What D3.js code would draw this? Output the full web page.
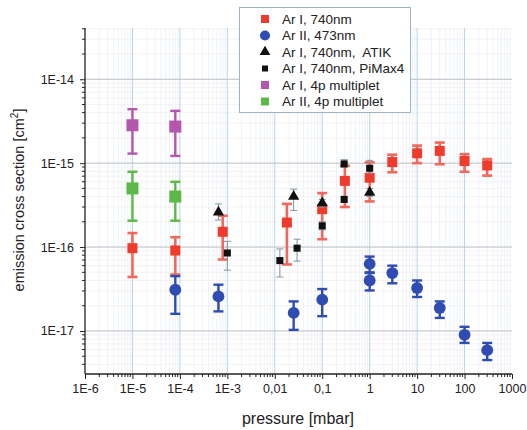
<!DOCTYPE html>
<html>
<head>
<meta charset="utf-8">
<script src="https://cdn.jsdelivr.net/npm/d3@7"></script>
<style>
  html, body { margin: 0; padding: 0; background: #fff; }
  svg { display: block; font-family: "Liberation Sans", Arial, sans-serif; }
</style>
</head>
<body>
<svg id="chart" width="527" height="430"></svg>
<script>
// Emission cross sections vs. pressure: [pressure mbar, value cm², lower, upper]
const arI740 = [
  [1e-5, 9.7e-17, 4.4e-17, 1.47e-16],
  [8e-5, 9.1e-17, 4.7e-17, 1.31e-16],
  [8e-4, 1.52e-16, 7.1e-17, 2.36e-16],
  [0.018, 1.96e-16, 6.2e-17, 3.27e-16],
  [0.1, 2.83e-16, 1.24e-16, 4.4e-16],
  [0.3, 6.15e-16, 3.0e-16, 9.3e-16],
  [1, 6.7e-16, 3.5e-16, 1.02e-15],
  [3, 1.03e-15, 7.8e-16, 1.26e-15],
  [10, 1.31e-15, 1.0e-15, 1.62e-15],
  [30, 1.4e-15, 9.7e-16, 1.76e-15],
  [100, 1.06e-15, 7.9e-16, 1.28e-15],
  [300, 9.4e-16, 7.1e-16, 1.12e-15]
];
const arII473 = [
  [8e-5, 3.1e-17, 1.6e-17, 4.5e-17],
  [6.5e-4, 2.58e-17, 1.71e-17, 3.56e-17],
  [0.025, 1.64e-17, 1.03e-17, 2.25e-17],
  [0.1, 2.36e-17, 1.5e-17, 3.16e-17],
  [1, 6.3e-17, 4.9e-17, 7.7e-17],
  [1, 4.0e-17, 3.04e-17, 5.0e-17],
  [3, 4.9e-17, 3.7e-17, 6.0e-17],
  [10, 3.25e-17, 2.54e-17, 4.0e-17],
  [30, 1.88e-17, 1.43e-17, 2.25e-17],
  [100, 9.0e-18, 7.2e-18, 1.12e-17],
  [300, 5.9e-18, 4.5e-18, 7.2e-18]
];
const arI740Atik = [
  [6.5e-4, 2.6e-16, 2.1e-16, 3.27e-16],
  [0.025, 4.0e-16, 2.73e-16, 4.9e-16],
  [0.1, 3.34e-16, 3.0e-16, 3.7e-16],
  [1, 4.47e-16, 4.0e-16, 5.0e-16]
];
const arI740PiMax = [
  [1e-3, 8.5e-17, 5.3e-17, 1.17e-16],
  [0.0128, 6.9e-17, 4.4e-17, 9.5e-17],
  [0.0295, 9.7e-17, 6.8e-17, 1.24e-16],
  [0.1, 1.79e-16, 1.6e-16, 2.0e-16],
  [0.29, 9.8e-16, 9.0e-16, 1.1e-15],
  [0.29, 3.7e-16, 3.4e-16, 4.0e-16],
  [1, 8.7e-16, 7.6e-16, 1.08e-15]
];
const arI4p = [
  [1e-5, 2.83e-15, 1.3e-15, 4.4e-15],
  [8e-5, 2.73e-15, 1.22e-15, 4.2e-15]
];
const arII4p = [
  [1e-5, 5.0e-16, 2.06e-16, 7.9e-16],
  [8e-5, 4.0e-16, 2.06e-16, 6.0e-16]
];

const xTickValues = [1e-6, 1e-5, 1e-4, 1e-3, 0.01, 0.1, 1, 10, 100, 1000];
const xTickLabels = ["1E-6", "1E-5", "1E-4", "1E-3", "0,01", "0,1", "1", "10", "100", "1000"];
const yTickValues = [1e-17, 1e-16, 1e-15, 1e-14];
const yTickLabels = ["1E-17", "1E-16", "1E-15", "1E-14"];
const legendLabels = ["Ar I, 740nm", "Ar II, 473nm", "Ar I, 740nm,  ATIK",
  "Ar I, 740nm, PiMax4", "Ar I, 4p multiplet", "Ar II, 4p multiplet"];

const svg = d3.select("#chart");
const x = d3.scaleLog().domain([1e-6, 1000]).range([85, 512]);
const y = d3.scaleLog().domain([Math.pow(10, -17.513), Math.pow(10, -13.389)]).range([374, 28]);
const [x0, x1] = x.range();
const [y0, y1] = y.range();

// minor and major grid
const minorX = [], minorY = [];
for (let e = -6; e < 3; e++) for (let m = 2; m <= 9; m++) minorX.push(m * Math.pow(10, e));
for (let e = -18; e < -13; e++) for (let m = 1; m <= 9; m++) {
  const v = m * Math.pow(10, e);
  if (v >= y.domain()[0] && v <= y.domain()[1]) minorY.push(v);
}
const grid = svg.append("g");
grid.selectAll(".gmx").data(minorX).join("line")
  .attr("x1", d => x(d)).attr("x2", d => x(d)).attr("y1", y0).attr("y2", y1)
  .attr("stroke", "#eaf0f6").attr("stroke-width", 0.8);
grid.selectAll(".gmy").data(minorY.filter(v => !yTickValues.includes(v))).join("line")
  .attr("x1", x0).attr("x2", x1).attr("y1", d => y(d)).attr("y2", d => y(d))
  .attr("stroke", "#f2eef0").attr("stroke-width", 0.8);
grid.selectAll(".gx").data(xTickValues.slice(1, -1)).join("line")
  .attr("x1", d => x(d)).attr("x2", d => x(d)).attr("y1", y0).attr("y2", y1)
  .attr("stroke", "#bcd3e4").attr("stroke-width", 1);
grid.selectAll(".gy").data(yTickValues).join("line")
  .attr("x1", x0).attr("x2", x1).attr("y1", d => y(d)).attr("y2", d => y(d))
  .attr("stroke", "#b9bec4").attr("stroke-width", 1);

// axes
const xAxis = d3.axisBottom(x).tickValues(xTickValues)
  .tickFormat((d, i) => xTickLabels[i]).tickSize(5).tickPadding(5);
const gx = svg.append("g").attr("transform", `translate(0,${y0})`).call(xAxis);
gx.append("g").selectAll("line").data(minorX).join("line")
  .attr("x1", d => x(d)).attr("x2", d => x(d)).attr("y1", 0).attr("y2", 3)
  .attr("stroke", "#222");
const yAxis = d3.axisLeft(y).tickValues(yTickValues)
  .tickFormat((d, i) => yTickLabels[i]).tickSize(5).tickPadding(6);
const gy = svg.append("g").attr("transform", `translate(${x0},0)`).call(yAxis);
gy.append("g").selectAll("line").data(minorY.filter(v => !yTickValues.includes(v))).join("line")
  .attr("x1", 0).attr("x2", -3).attr("y1", d => y(d)).attr("y2", d => y(d))
  .attr("stroke", "#222");
[gx, gy].forEach(g => {
  g.selectAll(".domain").attr("stroke", "#222").attr("stroke-width", 1.3);
  g.selectAll(".tick line").attr("stroke", "#222");
  g.selectAll("text").attr("font-size", 12.5).attr("fill", "#222")
    .attr("font-family", "Liberation Sans, Arial, sans-serif");
});
gx.select(".domain").attr("d", `M${x0},0H${x1}`);
gy.select(".domain").attr("d", `M0,${y0}V${y1}`);

// axis titles
svg.append("text").attr("x", 298).attr("y", 424).attr("text-anchor", "middle")
  .attr("font-size", 16).attr("fill", "#222").text("pressure [mbar]");
const yt = svg.append("text").attr("transform", "translate(24,200) rotate(-90)")
  .attr("text-anchor", "middle").attr("font-size", 14.5).attr("fill", "#222");
yt.append("tspan").text("emission cross section [cm");
yt.append("tspan").attr("dy", -6).attr("font-size", 10).text("2");
yt.append("tspan").attr("dy", 6).text("]");

// series drawing
function errorBars(data, color, width, cap) {
  const g = svg.append("g").attr("stroke", color).attr("stroke-width", width).attr("fill", "none");
  data.forEach(d => {
    const cx = x(d[0]);
    g.append("line").attr("x1", cx).attr("x2", cx).attr("y1", y(d[2])).attr("y2", y(d[3]));
    g.append("line").attr("x1", cx - cap / 2).attr("x2", cx + cap / 2).attr("y1", y(d[2])).attr("y2", y(d[2]));
    g.append("line").attr("x1", cx - cap / 2).attr("x2", cx + cap / 2).attr("y1", y(d[3])).attr("y2", y(d[3]));
  });
}
function markers(data, shape, size, color) {
  svg.append("g").selectAll("path").data(data).join("path")
    .attr("transform", d => `translate(${x(d[0])},${y(d[1])})`)
    .attr("d", d3.symbol().type(shape).size(size))
    .attr("fill", color);
}

const cRed = "#ef3b2c", cRedBar = "#f2685c", cBlue = "#2f4cb3",
  cMag = "#b455ae", cGreen = "#5cb847", cBlack = "#111";

errorBars(arI740, cRedBar, 2.6, 10);
markers(arI740, d3.symbolSquare, 100, cRed);
errorBars(arII473, cBlue, 2.4, 10);
markers(arII473, d3.symbolCircle, 110, cBlue);
errorBars(arI740Atik, "#7f95a6", 1, 7);
markers(arI740Atik, d3.symbolTriangle, 55, cBlack);
errorBars(arI740PiMax, "#7f95a6", 1, 7);
markers(arI740PiMax, d3.symbolSquare, 50, cBlack);
errorBars(arI4p, cMag, 2.4, 10);
markers(arI4p, d3.symbolSquare, 144, cMag);
errorBars(arII4p, cGreen, 2.4, 10);
markers(arII4p, d3.symbolSquare, 144, cGreen);

// legend
const lg = svg.append("g");
lg.append("rect").attr("x", 239.5).attr("y", 7.5).attr("width", 171).attr("height", 105)
  .attr("fill", "#fff").attr("stroke", "#9fb3c2").attr("stroke-width", 1);
const legendMarks = [
  [d3.symbolSquare, 64, cRed], [d3.symbolCircle, 80, cBlue], [d3.symbolTriangle, 50, cBlack],
  [d3.symbolSquare, 36, cBlack], [d3.symbolSquare, 64, cMag], [d3.symbolSquare, 64, cGreen]
];
legendLabels.forEach((t, i) => {
  const ly = 19 + i * 16.5;
  lg.append("path").attr("transform", `translate(265,${ly})`)
    .attr("d", d3.symbol().type(legendMarks[i][0]).size(legendMarks[i][1]))
    .attr("fill", legendMarks[i][2]);
  lg.append("text").attr("x", 282).attr("y", ly + 4.5).attr("font-size", 13.5)
    .attr("fill", "#222").attr("xml:space", "preserve").style("white-space", "pre").text(t);
});
</script>
</body>
</html>
